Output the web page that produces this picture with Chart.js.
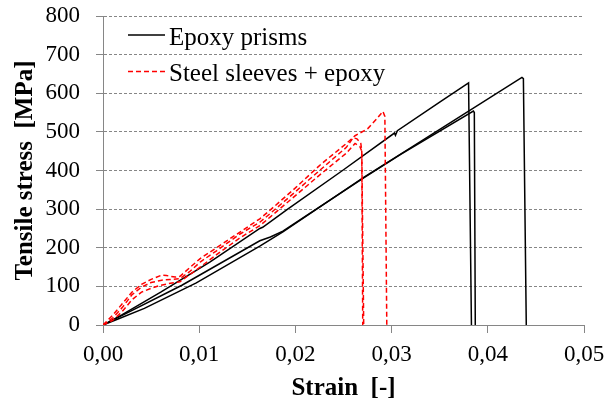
<!DOCTYPE html>
<html><head><meta charset="utf-8">
<script src="https://cdn.jsdelivr.net/npm/chart.js@4.4.0/dist/chart.umd.min.js"></script>
<style>html,body{margin:0;padding:0;background:#fff;}#c{display:block;}</style>
</head><body>
<canvas id="c" width="615" height="406"></canvas>
<script>
const seriesNames = ['Epoxy prisms', 'Steel sleeves + epoxy'];
const xTickLabels = ['0,00', '0,01', '0,02', '0,03', '0,04', '0,05'];
const yTickLabels = ['0', '100', '200', '300', '400', '500', '600', '700', '800'];
const xAxisTitle = 'Strain  [-]';
const yAxisTitle = 'Tensile stress  [MPa]';

// Epoxy prisms (black, solid)
const epoxyAStrain = [0, 0.0020, 0.0060, 0.0111, 0.0163, 0.0166, 0.0192, 0.0249, 0.0303, 0.0304, 0.0306, 0.0350, 0.0380, 0.0383];
const epoxyAStress = [0, 27, 85, 163, 250, 253, 300, 400, 497, 491, 503, 577, 627, 0];
const epoxyBStrain = [0, 0.0015, 0.0043, 0.0097, 0.0163, 0.0187, 0.0271, 0.0309, 0.04355, 0.0437, 0.0440];
const epoxyBStress = [0, 15, 43, 109, 204, 241, 382, 442, 641, 638, 0];
const epoxyCStrain = [0, 0.0020, 0.0082, 0.0163, 0.0174, 0.0187, 0.0271, 0.0309, 0.0385, 0.0386, 0.0387];
const epoxyCStress = [0, 25, 103, 218, 228, 243, 381, 441, 554, 550, 0];

// Steel sleeves + epoxy (red, dashed)
const sleeveAStrain = [0, 0.0010, 0.0020, 0.0030, 0.0040, 0.0050, 0.0061, 0.0066, 0.0075, 0.0080, 0.0090, 0.0101, 0.0118, 0.0142, 0.0163, 0.0174, 0.0200, 0.0226, 0.0253, 0.0262, 0.0275, 0.0285, 0.0291, 0.0293, 0.0295];
const sleeveAStress = [0, 25, 55, 85, 105, 118, 129, 128, 124, 126, 148, 172, 200, 240, 275, 298, 355, 415, 470, 490, 508, 535, 553, 540, 0];
const sleeveBStrain = [0, 0.0010, 0.0020, 0.0030, 0.0040, 0.0050, 0.0061, 0.0070, 0.0080, 0.0090, 0.0101, 0.0118, 0.0142, 0.0163, 0.0174, 0.0200, 0.0226, 0.0253, 0.0260, 0.0264, 0.0268, 0.0269, 0.0271];
const sleeveBStress = [0, 18, 45, 78, 98, 110, 116, 118, 120, 138, 163, 192, 235, 266, 289, 345, 402, 460, 485, 482, 470, 450, 0];
const sleeveCStrain = [0, 0.0010, 0.0020, 0.0030, 0.0040, 0.0050, 0.0060, 0.0070, 0.0080, 0.0090, 0.0101, 0.0118, 0.0142, 0.0163, 0.0174, 0.0200, 0.0226, 0.0253, 0.0262, 0.0267, 0.0269, 0.0270];
const sleeveCStress = [0, 12, 35, 65, 85, 95, 103, 108, 112, 130, 150, 182, 225, 257, 280, 335, 390, 445, 470, 462, 450, 0];

function pts(xs, ys) { return xs.map((x, i) => ({x: x, y: ys[i]})); }

const FONT = "'Liberation Serif', 'Times New Roman', 'DejaVu Serif', serif";
const GRID = '#868686';

function blackSet(label, xs, ys) {
  return {label, data: pts(xs, ys), borderColor: '#000000', borderWidth: 1.5, showLine: true,
          pointRadius: 0, tension: 0, fill: false, order: 1};
}
function redSet(label, xs, ys) {
  return {label, data: pts(xs, ys), borderColor: '#ff0000', borderWidth: 1.5, borderDash: [5, 3],
          showLine: true, pointRadius: 0, tension: 0, fill: false, order: 0};
}

const datasets = [
  blackSet(seriesNames[0], epoxyAStrain, epoxyAStress),
  blackSet(seriesNames[0], epoxyBStrain, epoxyBStress),
  blackSet(seriesNames[0], epoxyCStrain, epoxyCStress),
  redSet(seriesNames[1], sleeveAStrain, sleeveAStress),
  redSet(seriesNames[1], sleeveBStrain, sleeveBStress),
  redSet(seriesNames[1], sleeveCStrain, sleeveCStress)
];

const inlineLegend = {
  id: 'inlineLegend',
  afterDraw(chart) {
    const {ctx, chartArea} = chart;
    const seen = [];
    chart.data.datasets.forEach(ds => { if (!seen.find(s => s.label === ds.label)) seen.push(ds); });
    ctx.save();
    ctx.font = '25px ' + FONT;
    ctx.textBaseline = 'middle';
    ctx.textAlign = 'left';
    seen.forEach((ds, i) => {
      const y = chartArea.top + 19 + i * 36.5;
      const x0 = chartArea.left + 25, x1 = chartArea.left + 62;
      ctx.beginPath();
      ctx.strokeStyle = ds.borderColor;
      ctx.lineWidth = ds.borderWidth;
      ctx.setLineDash(ds.borderDash || []);
      ctx.moveTo(x0, y); ctx.lineTo(x1, y);
      ctx.stroke();
      ctx.setLineDash([]);
      ctx.fillStyle = '#000';
      ctx.fillText(ds.label, x1 + 4, y + 3);
    });
    ctx.restore();
  }
};

new Chart(document.getElementById('c'), {
  type: 'scatter',
  data: {datasets},
  plugins: [inlineLegend],
  options: {
    responsive: false,
    animation: false,
    devicePixelRatio: 1,
    layout: {padding: {left: 6, right: 31, top: 16, bottom: 1}},
    plugins: {legend: {display: false}, tooltip: {enabled: false}},
    scales: {
      x: {
        type: 'linear', min: 0, max: 0.05,
        afterFit: (s) => { s.height = 80; },
        ticks: {stepSize: 0.01, color: '#000', font: {family: FONT, size: 23}, padding: 8,
                callback: (v) => xTickLabels[Math.round(v / 0.01)]},
        grid: {drawOnChartArea: false, drawTicks: true, tickLength: 8, color: GRID, tickColor: GRID},
        border: {display: true, color: GRID, width: 1},
        title: {display: true, text: xAxisTitle, color: '#000',
                font: {family: FONT, size: 25, weight: 'bold'}, padding: {top: 5, bottom: 1}}
      },
      y: {
        type: 'linear', min: 0, max: 800,
        afterFit: (s) => { s.width = 97; s.paddingTop = 0; s.paddingBottom = 0; },
        ticks: {stepSize: 100, color: '#000', font: {family: FONT, size: 23}, padding: 16,
                callback: (v) => yTickLabels[Math.round(v / 100)]},
        grid: {drawOnChartArea: true, drawTicks: true, tickLength: 7, color: GRID, tickColor: GRID},
        border: {display: true, color: GRID, width: 1, dash: [3, 2]},
        title: {display: true, text: yAxisTitle, color: '#000',
                font: {family: FONT, size: 25, weight: 'bold'}, padding: {top: 5, bottom: 4}}
      }
    }
  }
});
</script>
</body></html>
